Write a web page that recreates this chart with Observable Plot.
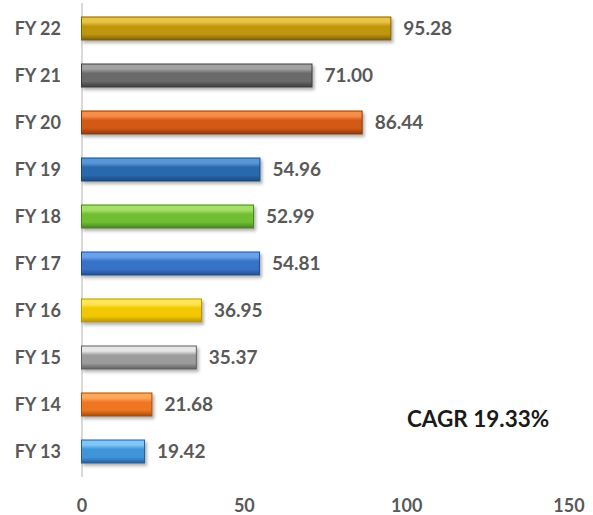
<!DOCTYPE html>
<html>
<head>
<meta charset="utf-8">
<script src="https://cdn.jsdelivr.net/npm/d3@7"></script>
<script src="https://cdn.jsdelivr.net/npm/@observablehq/plot@0.6"></script>
<style>
  html, body { margin: 0; padding: 0; background: #ffffff; }
  #chart { width: 593px; height: 515px; }
</style>
</head>
<body>
<div id="chart"></div>
<script>
const years = ["FY 22", "FY 21", "FY 20", "FY 19", "FY 18", "FY 17", "FY 16", "FY 15", "FY 14", "FY 13"];
const values = [95.28, 71.00, 86.44, 54.96, 52.99, 54.81, 36.95, 35.37, 21.68, 19.42];
const baseColors  = ["#c0960e", "#6a6a6a", "#d35a12", "#2a68ad", "#6fbe32", "#3672c8", "#f2c800", "#9c9c9c", "#ee7620", "#3f95d8"];
const lightColors = ["#e8c447", "#a2a2a2", "#f58e48", "#5a96d6", "#a6e06a", "#6aa2ea", "#ffe65a", "#e6e6e6", "#ffa85a", "#80c6f6"];
const darkColors  = ["#7e6004", "#3e3e3e", "#933608", "#174a82", "#44861c", "#1f4f98", "#b89400", "#606060", "#a84c0c", "#245f9c"];
const xTicks = [0, 50, 100, 150];
const cagrLabel = "CAGR 19.33%";

const data = years.map((y, i) => ({
  year: y,
  value: values[i],
  grad: `url(#barGrad${i})`,
  edge: darkColors[i]
}));

const plot = Plot.plot({
  width: 593,
  height: 515,
  marginLeft: 81.5,
  marginRight: 24.5,
  marginTop: 3,
  marginBottom: 38,
  style: { fontFamily: "Lato, 'Open Sans', sans-serif", background: "#ffffff", color: "#595959" },
  x: { domain: [0, 150] },
  y: { domain: years, paddingInner: 0.52, paddingOuter: 0.22 },
  color: { type: "identity" },
  marks: [
    Plot.ruleX([0], { stroke: "#d9d9d9", strokeWidth: 2 }),
    Plot.barX(data, {
      y: "year", x: "value",
      fill: "grad", stroke: "edge", strokeWidth: 1
    }),
    Plot.text(data, {
      y: "year", x: "value",
      text: d => d.value.toFixed(2),
      dx: 12, textAnchor: "start",
      fontSize: 19, fontWeight: "bold", fill: "#595959"
    }),
    Plot.text([cagrLabel], {
      x: 122, y: () => "FY 14", text: d => d,
      dy: 15, textAnchor: "middle",
      fontSize: 22.5, fontWeight: "bold", fill: "#1a1a1a"
    }),
    Plot.axisY({ tickSize: 0, tickPadding: 21, fontSize: 18, fontWeight: "bold", label: null }),
    Plot.axisX({ ticks: xTicks, tickSize: 0, tickPadding: 22, fontSize: 18, fontWeight: "bold", label: null })
  ]
});

const svg = d3.select(plot);
const defs = svg.insert("defs", ":first-child");
const filt = defs.append("filter").attr("id", "barShadow")
  .attr("x", "-5%").attr("y", "-20%").attr("width", "115%").attr("height", "160%");
filt.append("feDropShadow").attr("dx", 2).attr("dy", 2.5).attr("stdDeviation", 1.5)
  .attr("flood-color", "#000").attr("flood-opacity", 0.3);
years.forEach((y, i) => {
  const g = defs.append("linearGradient").attr("id", `barGrad${i}`)
    .attr("x1", 0).attr("y1", 0).attr("x2", 0).attr("y2", 1);
  g.append("stop").attr("offset", "0%").attr("stop-color", lightColors[i]);
  g.append("stop").attr("offset", "22%").attr("stop-color", lightColors[i]);
  g.append("stop").attr("offset", "40%").attr("stop-color", baseColors[i]);
  g.append("stop").attr("offset", "75%").attr("stop-color", baseColors[i]);
  g.append("stop").attr("offset", "100%").attr("stop-color", darkColors[i]);
});
svg.selectAll("g[aria-label='bar'] rect").attr("filter", "url(#barShadow)");

document.getElementById("chart").appendChild(plot);
</script>
</body>
</html>
